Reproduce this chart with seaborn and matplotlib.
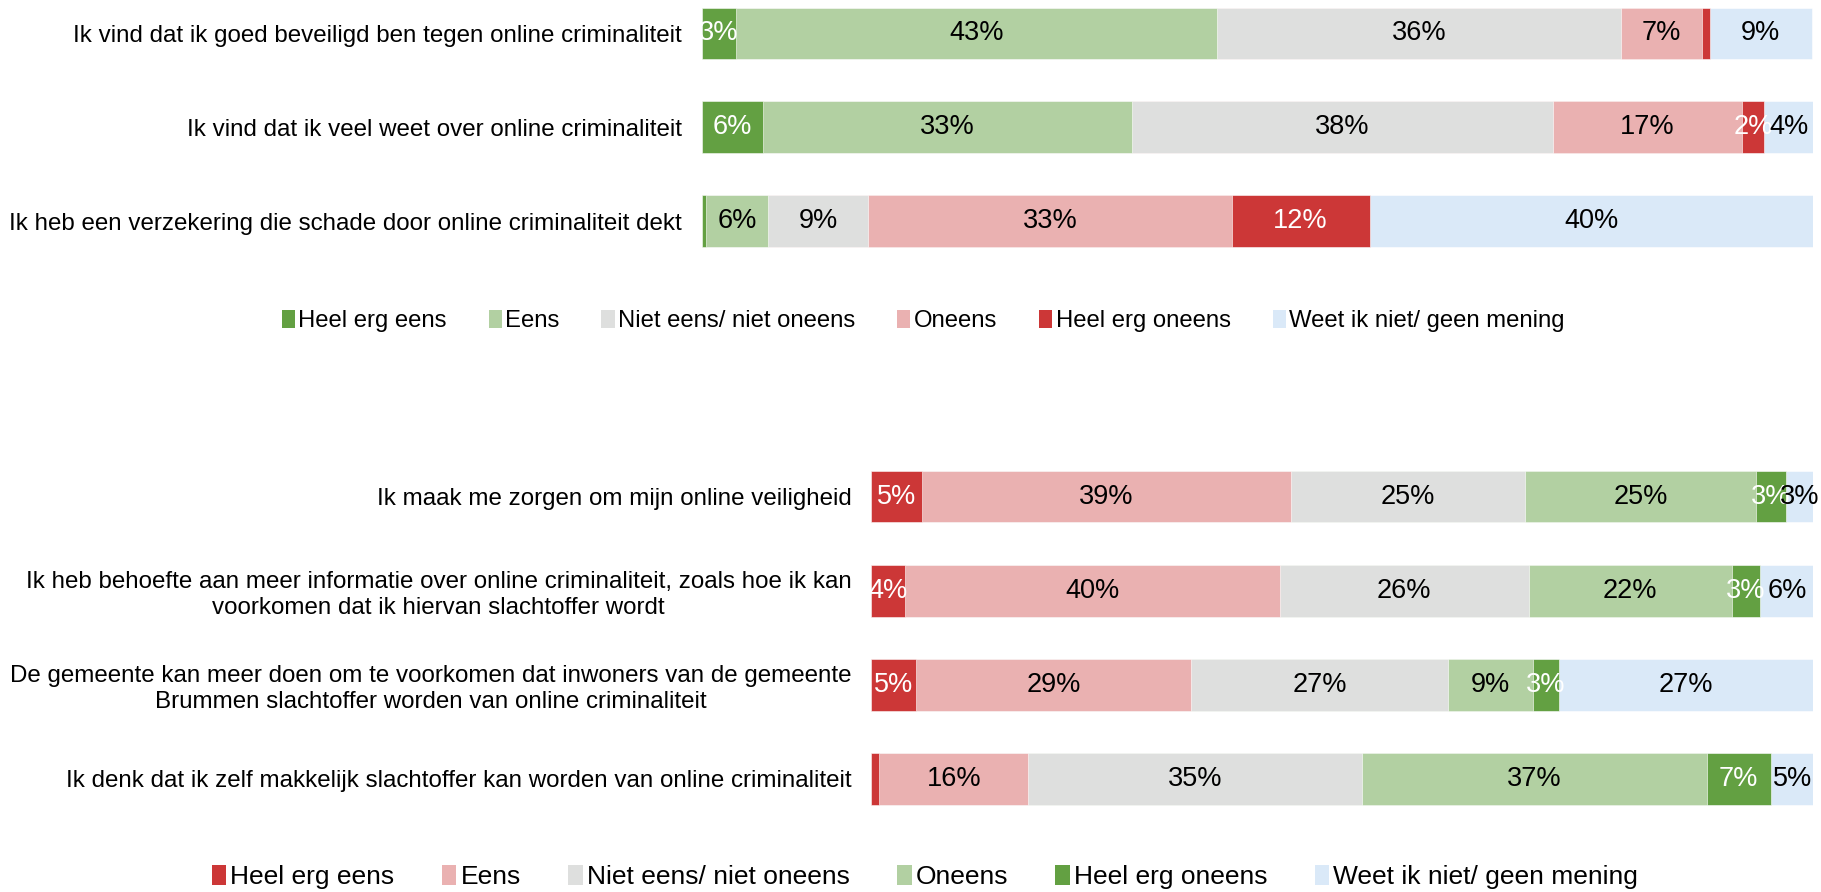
import numpy as np
import pandas as pd
import matplotlib
matplotlib.use("Agg")
import matplotlib.pyplot as plt
import seaborn as sns
from matplotlib.patches import Patch

sns.set_theme(style="white")
plt.rcParams['font.family'] = ['Liberation Sans', 'DejaVu Sans']
plt.rcParams['text.color'] = 'black'
plt.rcParams['ytick.color'] = 'black'
plt.rcParams['ytick.labelcolor'] = 'black'

# ---- data ----
top_categories = [
    "Ik vind dat ik goed beveiligd ben tegen online criminaliteit",
    "Ik vind dat ik veel weet over online criminaliteit",
    "Ik heb een verzekering die schade door online criminaliteit dekt",
]
top_series = ["Heel erg eens", "Eens", "Niet eens/ niet oneens", "Oneens",
              "Heel erg oneens", "Weet ik niet/ geen mening"]
top_heel_erg_eens = [3.1, 5.5, 0.4]
top_eens = [43.3, 33.2, 5.6]
top_niet = [36.3, 37.9, 9.0]
top_oneens = [7.3, 17.0, 32.7]
top_heel_erg_oneens = [0.7, 2.0, 12.4]
top_weet = [9.2, 4.4, 39.9]

bot_categories = [
    "Ik maak me zorgen om mijn online veiligheid",
    "Ik heb behoefte aan meer informatie over online criminaliteit, zoals hoe ik kan\nvoorkomen dat ik hiervan slachtoffer wordt",
    "De gemeente kan meer doen om te voorkomen dat inwoners van de gemeente\nBrummen slachtoffer worden van online criminaliteit",
    "Ik denk dat ik zelf makkelijk slachtoffer kan worden van online criminaliteit",
]
bot_series = ["Heel erg eens", "Eens", "Niet eens/ niet oneens", "Oneens",
              "Heel erg oneens", "Weet ik niet/ geen mening"]
bot_s1 = [5.4, 3.6, 4.8, 0.9]
bot_s2 = [39.2, 39.8, 29.2, 15.8]
bot_s3 = [24.8, 26.4, 27.2, 35.4]
bot_s4 = [24.6, 21.6, 9.1, 36.6]
bot_s5 = [3.1, 3.0, 2.7, 6.8]
bot_s6 = [3.0, 5.7, 27.0, 4.6]

DKGREEN = "#63A042"
LTGREEN = "#B2D0A2"
GREY = "#DEDFDE"
PINK = "#EAB1B1"
RED = "#CC3737"
LTBLUE = "#DAE9F8"

top_colors = [DKGREEN, LTGREEN, GREY, PINK, RED, LTBLUE]
bot_colors = [RED, PINK, GREY, LTGREEN, DKGREEN, LTBLUE]
top_text = ["white", "black", "black", "black", "white", "black"]
bot_text = ["white", "black", "black", "black", "white", "black"]

W, H = 1821, 892
fig = plt.figure(figsize=(W / 100, H / 100), dpi=100)


def stacked(ax, categories, series, values, colors, tcolors, fs_lab, fs_val):
    df = pd.DataFrame(dict(zip(series, values)), index=categories)
    cum = df.cumsum(axis=1)
    # draw from outermost cumulative to innermost so each segment shows
    for j in range(len(series) - 1, -1, -1):
        d = pd.DataFrame({"cat": categories, "val": cum.iloc[:, j].values})
        sns.barplot(data=d, x="val", y="cat", orient="h", color=colors[j],
                    saturation=1, width=0.55, ax=ax, edgecolor="white",
                    linewidth=0.4)
    for i, cat in enumerate(categories):
        for j, s in enumerate(series):
            v = df.loc[cat, s]
            if v < 1:
                continue
            c = cum.loc[cat, s] - v / 2
            ax.text(c, i, f"{int(v + 0.5)}%", ha="center", va="center",
                    color=tcolors[j], fontsize=fs_val)
    ax.set_xlim(0, 100)
    ax.set_xlabel("")
    ax.set_ylabel("")
    ax.set_xticks([])
    ax.tick_params(axis="y", length=0, pad=14, labelsize=fs_lab,
                   labelcolor="black")
    for lab in ax.get_yticklabels():
        lab.set_multialignment("center")
    sns.despine(ax=ax, left=True, bottom=True)
    return df


# top axes
axl = 701.5 / W
axr = 1813.0 / W
ax1 = fig.add_axes([axl, 1 - 268 / H, axr - axl, 268 / H])
stacked(ax1, top_categories, top_series,
        [top_heel_erg_eens, top_eens, top_niet, top_oneens, top_heel_erg_oneens, top_weet],
        top_colors, top_text, 17.4, 19.5)
ax1.set_ylim(2.5, -0.356)

bl = 871.0 / W
ax2 = fig.add_axes([bl, 1 - 826 / H, axr - bl, (826 - 449.5) / H])
stacked(ax2, bot_categories, bot_series,
        [bot_s1, bot_s2, bot_s3, bot_s4, bot_s5, bot_s6],
        bot_colors, bot_text, 17.4, 19.5)
ax2.set_ylim(3.5, -0.5)

h1 = [Patch(facecolor=c, edgecolor="none") for c in top_colors]
fig.legend(h1, top_series, loc="center", bbox_to_anchor=(0.507, 1 - 321 / H),
           ncol=6, frameon=False, fontsize=17.2, handlelength=0.55,
           handleheight=0.8, handletextpad=0.15, columnspacing=1.75)
h2 = [Patch(facecolor=c, edgecolor="none") for c in bot_colors]
fig.legend(h2, bot_series, loc="center", bbox_to_anchor=(0.508, 1 - 877 / H),
           ncol=6, frameon=False, fontsize=19, handlelength=0.55,
           handleheight=0.8, handletextpad=0.15, columnspacing=1.8)

fig.savefig("out.png", dpi=100)
